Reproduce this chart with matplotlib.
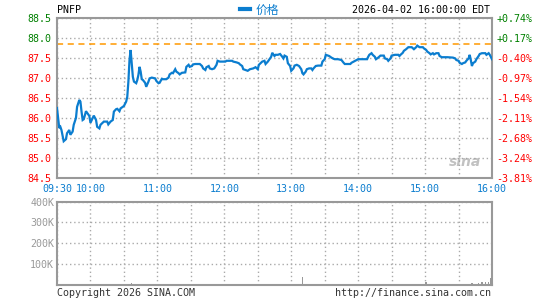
import matplotlib
matplotlib.use("Agg")
import matplotlib.pyplot as plt
import numpy as np

plt.rcParams['font.family'] = ['DejaVu Sans Mono', 'Noto Sans CJK SC']

# ---------------- data ----------------
ticker = "PNFP"
stamp = "2026-04-02 16:00:00 EDT"
prev_close = 87.85

# minutes after 09:30
minutes = [0, 1, 2, 3, 4, 6, 8, 9, 11, 12, 14, 15, 17, 18, 20, 21, 22, 23, 24, 26,
           27, 29, 30, 32, 33, 35, 36, 38, 39, 42, 45, 46, 48, 50, 51, 53, 54, 56, 57, 59,
           60, 62, 63, 64, 65, 66, 67, 68, 69, 71, 72, 73, 74, 75, 76, 77, 79, 80, 82, 83,
           85, 88, 89, 91, 92, 94, 95, 98, 100, 101, 103, 104, 106, 107, 109, 110, 112, 115, 116, 118,
           119, 121, 122, 124, 128, 130, 131, 133, 134, 136, 137, 139, 141, 143, 144, 146, 151, 152, 157, 158,
           161, 163, 164, 166, 167, 169, 171, 173, 176, 178, 180, 181, 184, 186, 187, 189, 190, 192, 193, 195,
           196, 198, 200, 202, 203, 204, 206, 207, 209, 210, 212, 213, 215, 217, 219, 220, 221, 223, 224, 226,
           228, 229, 230, 232, 234, 237, 238, 240, 241, 243, 244, 246, 248, 249, 252, 255, 257, 258, 263, 264,
           266, 270, 278, 279, 280, 282, 283, 285, 286, 288, 290, 293, 294, 296, 297, 299, 300, 303, 306, 307,
           308, 310, 311, 313, 315, 318, 320, 322, 323, 325, 328, 329, 331, 332, 334, 335, 337, 338, 340, 342,
           343, 345, 350, 355, 357, 358, 360, 361, 363, 364, 366, 367, 369, 370, 371, 372, 373, 375, 376, 378,
           379, 381, 384, 385, 387, 388, 390]
prices = [86.25, 86.00, 85.75, 85.78, 85.70, 85.42, 85.47, 85.62, 85.70, 85.58, 85.66, 85.83, 86.00, 86.28, 86.45, 86.41, 86.16, 85.95, 85.97, 86.17,
          86.13, 86.05, 85.88, 86.00, 86.06, 85.95, 85.78, 85.74, 85.83, 85.91, 85.91, 85.84, 85.91, 85.95, 86.16, 86.22, 86.23, 86.17, 86.24, 86.28,
          86.30, 86.41, 86.53, 86.91, 87.45, 87.70, 87.37, 87.03, 86.91, 86.87, 86.95, 87.08, 87.28, 87.16, 86.97, 86.95, 86.88, 86.78, 86.91, 86.99,
          87.01, 86.99, 86.93, 86.87, 86.88, 86.98, 86.97, 86.97, 87.01, 87.09, 87.13, 87.12, 87.22, 87.16, 87.12, 87.09, 87.13, 87.14, 87.28, 87.33,
          87.28, 87.30, 87.34, 87.35, 87.35, 87.30, 87.24, 87.20, 87.27, 87.30, 87.24, 87.22, 87.24, 87.33, 87.43, 87.41, 87.41, 87.43, 87.43, 87.41,
          87.39, 87.37, 87.34, 87.30, 87.22, 87.20, 87.18, 87.22, 87.24, 87.27, 87.22, 87.33, 87.41, 87.43, 87.35, 87.41, 87.45, 87.53, 87.63, 87.55,
          87.58, 87.58, 87.60, 87.53, 87.49, 87.56, 87.53, 87.37, 87.30, 87.18, 87.24, 87.31, 87.33, 87.30, 87.22, 87.12, 87.09, 87.16, 87.22, 87.24,
          87.24, 87.20, 87.24, 87.30, 87.31, 87.31, 87.41, 87.47, 87.58, 87.56, 87.55, 87.51, 87.48, 87.47, 87.47, 87.45, 87.38, 87.35, 87.35, 87.38,
          87.41, 87.47, 87.47, 87.53, 87.58, 87.62, 87.58, 87.53, 87.47, 87.51, 87.56, 87.56, 87.49, 87.47, 87.43, 87.49, 87.56, 87.58, 87.58, 87.55,
          87.58, 87.63, 87.68, 87.72, 87.77, 87.77, 87.72, 87.77, 87.81, 87.77, 87.77, 87.74, 87.70, 87.66, 87.62, 87.59, 87.62, 87.59, 87.62, 87.62,
          87.55, 87.52, 87.52, 87.51, 87.49, 87.45, 87.43, 87.38, 87.35, 87.37, 87.39, 87.43, 87.49, 87.58, 87.45, 87.30, 87.37, 87.41, 87.47, 87.55,
          87.60, 87.62, 87.62, 87.58, 87.62, 87.58, 87.47]

vol_minutes = [0, 5, 10, 15, 20, 25, 30, 35, 40, 45, 50, 55, 60, 67, 70, 75, 80, 85, 90, 95,
               100, 105, 110, 115, 120, 125, 130, 135, 140, 145, 150, 155, 160, 165, 170, 175, 180, 185, 189, 195,
               200, 205, 210, 215, 220, 225, 230, 235, 240, 245, 250, 255, 260, 265, 270, 275, 280, 285, 290, 295,
               300, 305, 310, 315, 320, 325, 331, 335, 340, 345, 350, 355, 360, 365, 372, 375, 378, 381, 384, 387, 389]
vol_k = [14, 4, 3, 3, 4, 5, 3, 4, 3, 4, 3, 4, 5, 10, 4, 3, 4, 3, 4, 3,
         4, 3, 3, 4, 3, 3, 4, 3, 3, 4, 3, 3, 4, 3, 3, 3, 4, 3, 7, 3,
         3, 4, 3, 3, 40, 3, 4, 3, 3, 3, 3, 4, 3, 3, 3, 3, 4, 3, 3, 3,
         3, 3, 3, 4, 3, 3, 12, 3, 3, 3, 3, 4, 3, 3, 8, 5, 10, 14, 14, 14, 35]

price_ticks = [84.5, 85.0, 85.5, 86.0, 86.5, 87.0, 87.5, 88.0, 88.5]
time_ticks = [0, 30, 90, 150, 210, 270, 330, 390]
time_labels = ["09:30", "10:00", "11:00", "12:00", "13:00", "14:00", "15:00", "16:00"]
vol_ticks = [100, 200, 300, 400]
vol_labels = ["100K", "200K", "300K", "400K"]

# ---------------- styling ----------------
W, H = 545, 300
BLUE = '#0b7dcf'
GREEN = '#008000'
RED = '#ff0000'
GRID = '#aaaaaa'
SPINE = '#999999'
FS = 7.2

fig = plt.figure(figsize=(W / 100, H / 100), dpi=100)
fig.patch.set_facecolor('white')

def box(x0, y0, x1, y1):
    return [x0 / W, 1 - y1 / H, (x1 - x0) / W, (y1 - y0) / H]

ax = fig.add_axes(box(57, 18, 492, 178))
axv = fig.add_axes(box(57, 201.5, 492, 285))

for a in (ax, axv):
    for s in a.spines.values():
        s.set_color(SPINE)
        s.set_linewidth(1.5)
    a.set_xlim(0, 390)
    a.set_xticks(np.arange(0, 391, 30))
    a.grid(True, color=GRID, linestyle=(0, (1, 2)), linewidth=1.0)
    a.set_axisbelow(True)
    a.tick_params(length=0)

# price panel
ax.plot(minutes, prices, color=BLUE, linewidth=1.6, solid_joinstyle='miter', zorder=3)
ax.axhline(prev_close, color='#ff9900', linewidth=1.1, linestyle=(0, (4, 3)), zorder=2)
ax.set_ylim(84.5, 88.5)
ax.set_yticks(price_ticks)
ax.set_yticklabels([f"{p:.1f}" for p in price_ticks], fontsize=FS)
for lab, p in zip(ax.get_yticklabels(), price_ticks):
    lab.set_color(GREEN if p > prev_close else RED)
ax.tick_params(axis='y', pad=4)

ax.set_xticklabels([])
for t, l in zip(time_ticks, time_labels):
    ax.text(t, -0.07, l, transform=ax.get_xaxis_transform(), ha='center', va='center',
            fontsize=FS, color=BLUE)

ax2 = ax.twinx()
ax2.set_ylim(ax.get_ylim())
ax2.set_yticks(price_ticks)
pct = [(p / prev_close - 1) * 100 for p in price_ticks]
ax2.set_yticklabels([f"{v:+.2f}%" for v in pct], fontsize=FS)
for lab, v in zip(ax2.get_yticklabels(), pct):
    lab.set_color(GREEN if v > 0 else RED)
ax2.tick_params(length=0, pad=3)
for s in ax2.spines.values():
    s.set_visible(False)

# watermark
ax.text(0.975, 0.1, "sina", transform=ax.transAxes, ha='right', va='center',
        fontsize=10, fontweight='bold', style='italic', color='#999999', alpha=0.6,
        family='DejaVu Sans')

# volume panel
axv.bar(vol_minutes, vol_k, width=1.3, color=SPINE, linewidth=0, zorder=3)
axv.set_ylim(0, 400)
axv.set_yticks(vol_ticks)
axv.set_yticklabels(vol_labels, fontsize=FS, color='#999999')
axv.tick_params(axis='y', pad=2)
axv.set_xticklabels([])

# header / footer text
fig.text(57 / W, 1 - 10 / H, ticker, ha='left', va='center', fontsize=FS, color='black')
fig.text(490 / W, 1 - 10 / H, stamp, ha='right', va='center', fontsize=FS, color='black')
fig.lines.append(plt.Line2D([240 / W, 250 / W], [1 - 9 / H, 1 - 9 / H], transform=fig.transFigure,
                            color=BLUE, linewidth=3))
fig.text(256 / W, 1 - 10 / H, "价格", ha='left', va='center', fontsize=8.5, color=BLUE,
         family=['Noto Sans CJK SC', 'DejaVu Sans'])
fig.text(57 / W, 1 - 293 / H, "Copyright 2026 SINA.COM", ha='left', va='center', fontsize=FS, color='#333333')
fig.text(491 / W, 1 - 293 / H, "http://finance.sina.com.cn", ha='right', va='center', fontsize=FS, color='#333333')

fig.savefig("out.png", dpi=100, facecolor='white')
